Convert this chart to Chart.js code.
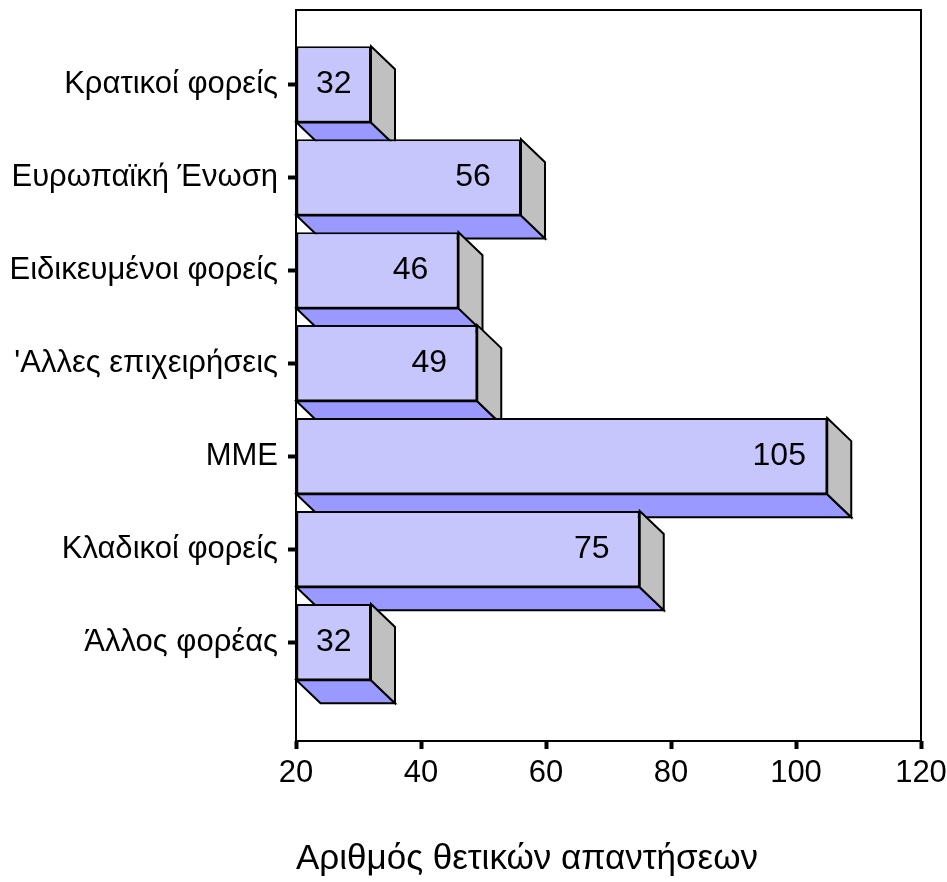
<!DOCTYPE html>
<html>
<head>
<meta charset="utf-8">
<script src="https://cdn.jsdelivr.net/npm/chart.js@4.4.1/dist/chart.umd.min.js"></script>
<style>
  body { margin: 0; background: #fff; }
  canvas { display: block; }
</style>
</head>
<body>
<canvas id="chart" width="947" height="882"></canvas>
<script>
// Chart data
const categories = [
    'Κρατικοί φορείς',
    'Ευρωπαϊκή Ένωση',
    'Ειδικευμένοι φορείς',
    "'Αλλες επιχειρήσεις",
    'ΜΜΕ',
    'Κλαδικοί φορείς',
    'Άλλος φορέας'
];
const responses = [32, 56, 46, 49, 105, 75, 32];
const xTicks = [20, 40, 60, 80, 100, 120];
const axisTitle = 'Αριθμός θετικών απαντήσεων';

// Colours of the 3D bars
const frontColor = '#c6c6fd';
const bottomColor = '#9999ff';
const sideColor = '#c0c0c0';
const depthX = 24;
const depthY = 23;

Chart.defaults.font.family = "'Liberation Sans', Arial, sans-serif";
Chart.defaults.font.size = 30;
Chart.defaults.color = '#000';

// Draws the plot frame, the depth faces of each bar and the value labels
const bar3d = {
    id: 'bar3d',
    beforeDatasetsDraw(chart) {
        const ctx = chart.ctx;
        const area = chart.chartArea;

        ctx.save();
        ctx.strokeStyle = '#000';
        ctx.lineWidth = 2;
        ctx.strokeRect(area.left, area.top, area.right - area.left, area.bottom - area.top);
        ctx.restore();

        const meta = chart.getDatasetMeta(0);
        meta.data.forEach((bar, i) => {
            const { x, y, base, height } = bar.getProps(['x', 'y', 'base', 'height'], true);
            const top = y - height / 2;
            const bottom = y + height / 2;

            ctx.save();
            ctx.lineWidth = 2;
            ctx.strokeStyle = '#000';

            // bottom face
            ctx.beginPath();
            ctx.moveTo(base, bottom);
            ctx.lineTo(x, bottom);
            ctx.lineTo(x + depthX, bottom + depthY);
            ctx.lineTo(base + depthX, bottom + depthY);
            ctx.closePath();
            ctx.fillStyle = bottomColor;
            ctx.fill();
            ctx.stroke();

            // side face
            ctx.beginPath();
            ctx.moveTo(x, top);
            ctx.lineTo(x + depthX, top + depthY);
            ctx.lineTo(x + depthX, bottom + depthY);
            ctx.lineTo(x, bottom);
            ctx.closePath();
            ctx.fillStyle = sideColor;
            ctx.fill();
            ctx.stroke();
            ctx.restore();

            // front face
            bar.draw(ctx);

            // value label
            const cx = Math.max(x - 48, (base + x) / 2);
            ctx.save();
            ctx.fillStyle = '#000';
            ctx.font = "32px 'Liberation Sans', Arial, sans-serif";
            ctx.textAlign = 'center';
            ctx.textBaseline = 'middle';
            ctx.fillText(String(responses[i]), cx, y);
            ctx.restore();
        });
        return false;
    }
};

const ctx = document.getElementById('chart').getContext('2d');
const responseChart = new Chart(ctx, {
    type: 'bar',
    data: {
        datasets: [{
            data: responses.map((v, i) => ({ x: v, y: i })),
            base: xTicks[0],
            backgroundColor: frontColor,
            borderColor: '#000',
            borderWidth: 2,
            borderSkipped: false,
            categoryPercentage: 1,
            barPercentage: 0.82
        }]
    },
    options: {
        indexAxis: 'y',
        responsive: false,
        animation: false,
        layout: {
            padding: { top: 10, right: 26, bottom: 0, left: 0 }
        },
        plugins: {
            legend: { display: false },
            tooltip: { enabled: false }
        },
        scales: {
            x: {
                type: 'linear',
                min: xTicks[0],
                max: xTicks[xTicks.length - 1],
                afterBuildTicks: s => { s.ticks = xTicks.map(v => ({ value: v })); },
                afterFit: s => {
                    s.height = 141;
                    s.paddingLeft = 0;
                    s.paddingRight = 0;
                },
                border: { display: false },
                grid: {
                    drawOnChartArea: false,
                    drawTicks: true,
                    tickLength: 8,
                    tickWidth: 4,
                    tickColor: '#000'
                },
                ticks: {
                    padding: 6,
                    color: '#000',
                    font: { size: 31 }
                },
                title: {
                    display: true,
                    text: axisTitle,
                    align: 'start',
                    color: '#000',
                    font: { size: 35 },
                    padding: { top: 0, bottom: 2 }
                }
            },
            y: {
                type: 'linear',
                reverse: true,
                offset: false,
                min: -0.8,
                max: 7.064,
                afterBuildTicks: s => { s.ticks = categories.map((c, i) => ({ value: i })); },
                afterFit: s => {
                    s.width = 296;
                    s.paddingTop = 0;
                    s.paddingBottom = 0;
                },
                border: { display: false },
                grid: {
                    offset: false,
                    drawOnChartArea: false,
                    drawTicks: true,
                    tickLength: 8,
                    tickWidth: 4,
                    tickColor: '#000'
                },
                ticks: {
                    autoSkip: false,
                    padding: 10,
                    color: '#000',
                    font: { size: 31 },
                    callback: value => categories[value]
                }
            }
        }
    },
    plugins: [bar3d]
});
</script>
</body>
</html>
